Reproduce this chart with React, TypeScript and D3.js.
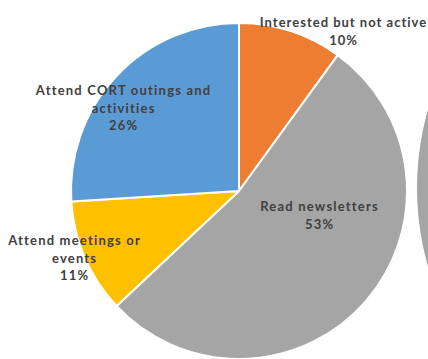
import React from "react";
import * as d3 from "d3";

const categories = [
  "Interested but not active",
  "Read newsletters",
  "Attend meetings or events",
  "Attend CORT outings and activities",
];
const values = [10, 53, 11, 26];
const percentLabels = ["10%", "53%", "11%", "26%"];
const labelLines = [
  ["Interested but not active"],
  ["Read newsletters"],
  ["Attend meetings or", "events"],
  ["Attend CORT outings and", "activities"],
];
const colors = ["#ED7D31", "#A5A5A5", "#FFC000", "#5B9BD5"];

// layout (label anchor = first baseline, relative to pie center)
const W = 428;
const H = 359;
const CX = 239;
const CY = 191;
const R = 168;
const labelOffsets: [number, number][] = [
  [104, -164],
  [80, 20],
  [-165, 54],
  [-116, -96],
];
const labelSpacing = [1.0, 1.2, 1.2, 1.2];
const LINE = 17.5;

export default function App() {
  const pie = d3
    .pie<number>()
    .sort(null)
    .value((d) => d)
    .startAngle(0)
    .endAngle(2 * Math.PI);
  const arcs = pie(values);
  const arcGen = d3.arc<d3.PieArcDatum<number>>().innerRadius(0).outerRadius(R);

  return (
    <svg
      width={W}
      height={H}
      style={{ position: "fixed", left: 0, top: 0, background: "#fff" }}
    >
      <circle cx={703} cy={188} r={286} fill="#A5A5A5" />
      <g transform={`translate(${CX},${CY})`}>
        {arcs.map((a, i) => (
          <path
            key={categories[i]}
            d={arcGen(a) || ""}
            fill={colors[i]}
            stroke="#fff"
            strokeWidth={2}
            strokeLinejoin="round"
          />
        ))}
        {arcs.map((a, i) => {
          const [dx, dy] = labelOffsets[i];
          const lines = [...labelLines[i], percentLabels[i]];
          const ls = labelSpacing[i];
          const x = dx + ls / 2;
          return (
            <text
              key={"l" + i}
              x={x}
              y={dy}
              textAnchor="middle"
              fontFamily="Lato, 'DejaVu Sans', sans-serif"
              fontWeight={700}
              fontSize={13}
              letterSpacing={ls}
              fill="#404040"
            >
              {lines.map((t, j) => (
                <tspan key={j} x={x} dy={j === 0 ? 0 : LINE}>
                  {t}
                </tspan>
              ))}
            </text>
          );
        })}
      </g>
    </svg>
  );
}
